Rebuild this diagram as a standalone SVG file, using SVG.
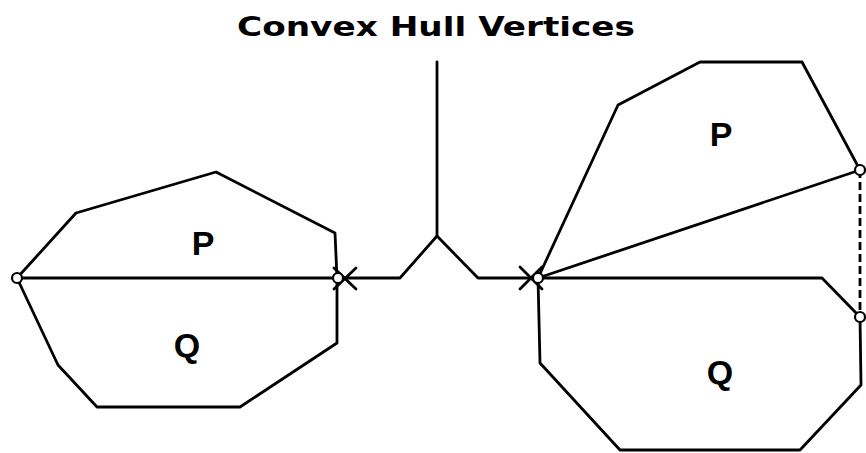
<svg xmlns="http://www.w3.org/2000/svg" width="866" height="453" viewBox="0 0 866 453">
<style>
.e{fill:none;stroke:#000;stroke-width:2.8;stroke-linejoin:round;stroke-linecap:round}
.d{fill:none;stroke:#000;stroke-width:2.8;stroke-dasharray:8 4}
.v{fill:#fff;stroke:#000;stroke-width:2.2}
.lbl{font-family:"Liberation Sans",Arial,sans-serif;font-weight:bold;font-size:34px;fill:#000}
.t{font-family:"DejaVu Sans","Liberation Sans",sans-serif;font-weight:bold;font-size:27px;fill:#000}
</style>
<rect width="866" height="453" fill="#fff"/>
<text class="t" x="436" y="36" text-anchor="middle" textLength="398" lengthAdjust="spacingAndGlyphs">Convex Hull Vertices</text>
<g id="connectors">
<polyline class="e" points="437,62 437,236"/>
<polyline class="e" points="17,278 400,278 437,236 478,278 538,278"/>
<line class="e" x1="334" y1="268" x2="356" y2="289"/>
<line class="e" x1="334" y1="289" x2="356" y2="268"/>
<line class="e" x1="520" y1="267" x2="542" y2="289"/>
<line class="e" x1="520" y1="289" x2="542" y2="267"/>
<line class="e" x1="538" y1="278" x2="860" y2="170"/>
<line class="d" x1="860" y1="170" x2="860" y2="317"/>
</g>
<g id="leftP">
<polyline class="e" points="17,278 76,213 216,172 335,233 337,278"/>
<text class="lbl" x="203" y="255" text-anchor="middle">P</text>
</g>
<g id="leftQ">
<polyline class="e" points="17,278 58,365 97,407 240,407 337,343 337,278"/>
<text class="lbl" x="187" y="357" text-anchor="middle">Q</text>
</g>
<g id="rightP">
<polyline class="e" points="538,278 618,105 700,62 802,62 860,170"/>
<text class="lbl" x="721" y="146" text-anchor="middle">P</text>
</g>
<g id="rightQ">
<polyline class="e" points="538,278 822,278 860,317 861,385 800,450 620,450 540,363 538,278"/>
<text class="lbl" x="720" y="384" text-anchor="middle">Q</text>
</g>
<g id="vertices">
<circle class="v" cx="17" cy="278" r="5"/>
<circle class="v" cx="338" cy="278" r="5"/>
<circle class="v" cx="538" cy="278" r="5"/>
<circle class="v" cx="860" cy="170" r="5"/>
<circle class="v" cx="860" cy="317" r="5"/>
</g>
</svg>
